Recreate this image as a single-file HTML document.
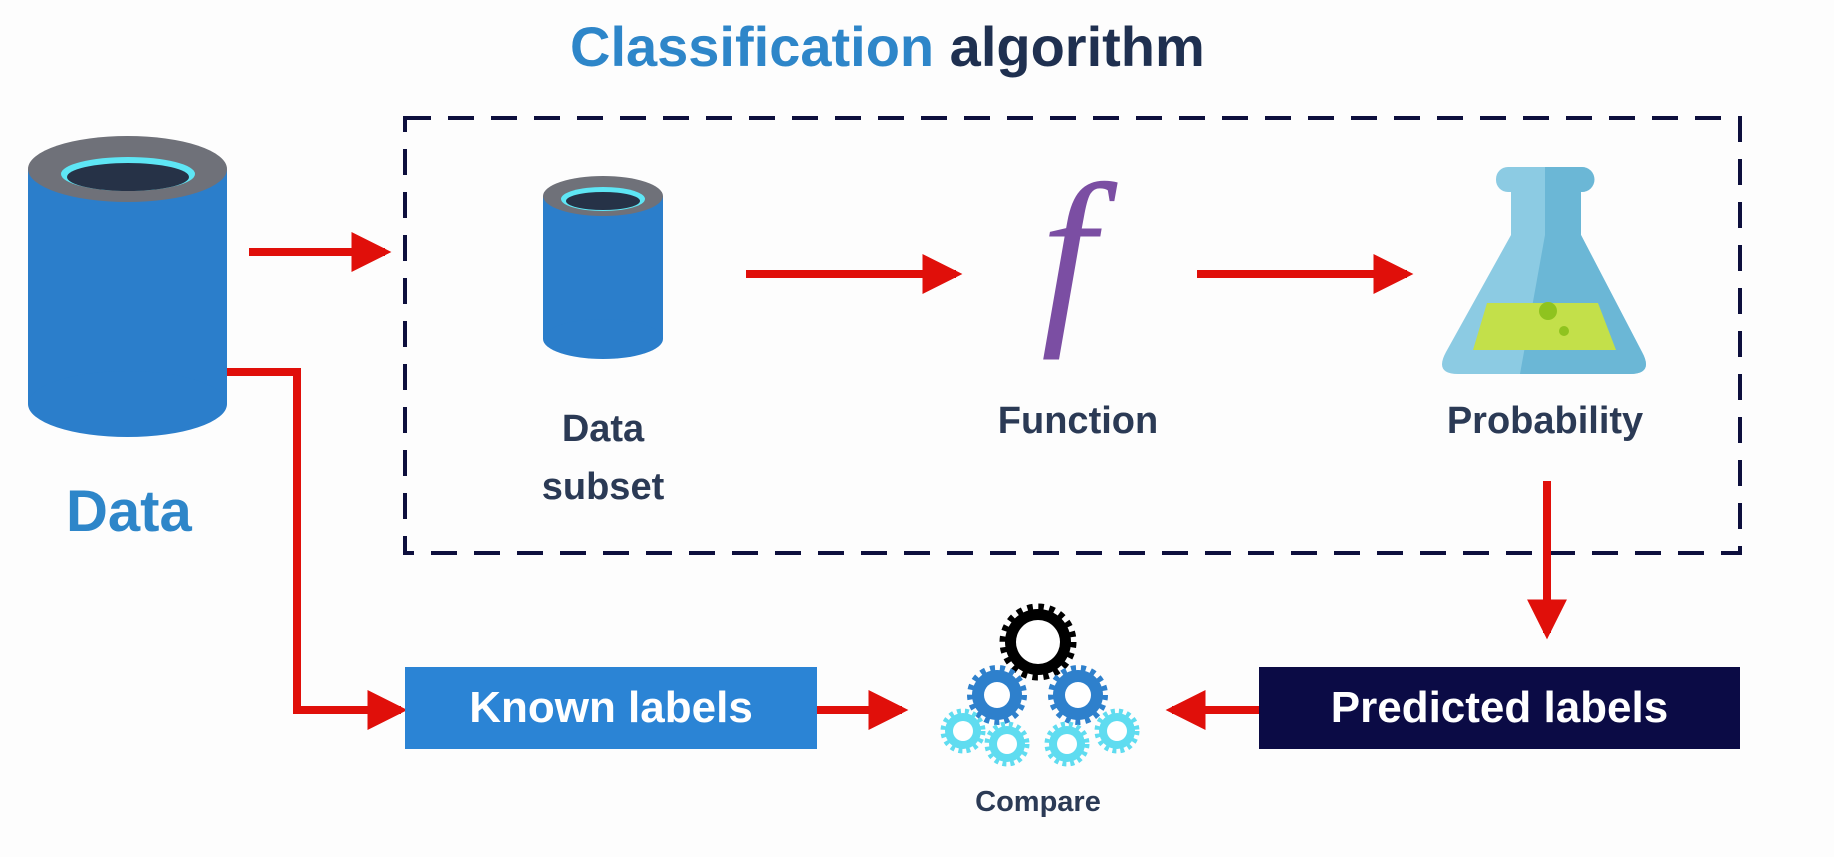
<!DOCTYPE html>
<html><head><meta charset="utf-8"><style>
html,body{margin:0;padding:0;background:#fdfdfd;}
body{width:1834px;height:857px;position:relative;overflow:hidden;font-family:"Liberation Sans",sans-serif;}
.t{position:absolute;font-weight:bold;white-space:nowrap;}
</style></head><body>
<svg width="1834" height="857" style="position:absolute;left:0;top:0">
<defs>
<marker id="ah" markerWidth="5" markerHeight="5" refX="4.2" refY="2.5" orient="auto" markerUnits="strokeWidth"><path d="M0,0 L5,2.5 L0,5 z" fill="#e00f0a"/></marker>
</defs>
<rect x="405" y="118" width="1335" height="435" fill="none" stroke="#0d0f3d" stroke-width="4" stroke-dasharray="26,17"/>
<rect x="28" y="169" width="199" height="235" fill="#2b7ecb"/>
<ellipse cx="127.5" cy="404" rx="99.5" ry="33" fill="#2b7ecb"/>
<ellipse cx="127.5" cy="169" rx="99.5" ry="33" fill="#6f7179"/>
<ellipse cx="128" cy="174" rx="67" ry="17" fill="#5ee6f5"/>
<ellipse cx="128" cy="177" rx="61" ry="14" fill="#263247"/>
<rect x="543" y="196" width="120" height="143" fill="#2b7ecb"/>
<ellipse cx="603" cy="339" rx="60" ry="20" fill="#2b7ecb"/>
<ellipse cx="603" cy="196" rx="60" ry="20" fill="#6f7179"/>
<ellipse cx="603" cy="199" rx="42" ry="12" fill="#5ee6f5"/>
<ellipse cx="603" cy="201" rx="37" ry="9" fill="#263247"/>
<rect x="1496" y="167" width="98" height="25" rx="12" fill="#8ccbe3"/>
<path d="M1545,167 H1582 A12,12 0 0 1 1582,192 H1545 Z" fill="#6bb7d6"/>
<path d="M1511,190 H1581 V235 L1642,352 Q1654,374 1630,374 H1458 Q1434,374 1446,352 L1511,235 Z" fill="#8ccbe3"/>
<path d="M1545,190 H1581 V235 L1642,352 Q1654,374 1630,374 H1520 L1545,235 Z" fill="#6bb7d6"/>
<path d="M1487,303 H1598 L1616,350 H1473 Z" fill="#c3e04a"/>
<circle cx="1548" cy="311" r="9" fill="#8fc31f"/>
<circle cx="1564" cy="331" r="5" fill="#8fc31f"/>
<g stroke="#e00f0a" stroke-width="8" fill="none" marker-end="url(#ah)">
<line x1="249" y1="252" x2="385" y2="252"/>
<line x1="746" y1="274" x2="956" y2="274"/>
<line x1="1197" y1="274" x2="1407" y2="274"/>
<line x1="1547" y1="481" x2="1547" y2="633"/>
<polyline points="227,372 297,372 297,710 401,710"/>
<line x1="817" y1="710" x2="902" y2="710"/>
<line x1="1259" y1="710" x2="1172" y2="710"/>
</g>
<rect x="405" y="667" width="412" height="82" fill="#2b84d5"/>
<rect x="1259" y="667" width="481" height="82" fill="#0b0b45"/>
<g>
<circle cx="1038" cy="642" r="33" fill="#000"/><circle cx="1038" cy="642" r="35" fill="none" stroke="#000" stroke-width="7" stroke-dasharray="5.5,5.5"/><circle cx="1038" cy="642" r="22" fill="#fff"/>
<circle cx="997" cy="695" r="25" fill="#2e80cc"/><circle cx="997" cy="695" r="27" fill="none" stroke="#2e80cc" stroke-width="6" stroke-dasharray="5,5"/><circle cx="997" cy="695" r="13" fill="#fff"/>
<circle cx="1078" cy="695" r="25" fill="#2e80cc"/><circle cx="1078" cy="695" r="27" fill="none" stroke="#2e80cc" stroke-width="6" stroke-dasharray="5,5"/><circle cx="1078" cy="695" r="13" fill="#fff"/>
<g fill="#5fdcf0">
<circle cx="963" cy="731" r="18"/><circle cx="1007" cy="744" r="18"/><circle cx="1067" cy="744" r="18"/><circle cx="1117" cy="731" r="18"/>
</g>
<g fill="none" stroke="#5fdcf0" stroke-width="5" stroke-dasharray="4,4">
<circle cx="963" cy="731" r="20"/><circle cx="1007" cy="744" r="20"/><circle cx="1067" cy="744" r="20"/><circle cx="1117" cy="731" r="20"/>
</g>
<g fill="#fff">
<circle cx="963" cy="731" r="10"/><circle cx="1007" cy="744" r="10"/><circle cx="1067" cy="744" r="10"/><circle cx="1117" cy="731" r="10"/>
</g>
</g>
</svg>
<div class="t" style="left:570px;top:14px;font-size:56px;"><span style="color:#2e86c9">Classification</span> <span style="color:#1f3050">algorithm</span></div>
<div class="t" style="left:66px;top:478px;font-size:58px;color:#2e86c9;">Data</div>
<div class="t" style="left:503px;top:400px;width:200px;text-align:center;font-size:38px;line-height:58px;color:#2b3a55;">Data<br>subset</div>
<div class="t" style="left:1041px;top:156px;font-size:195px;line-height:195px;color:#7b4ea3;font-family:'Liberation Serif',serif;font-style:italic;font-weight:normal;">f</div>
<div class="t" style="left:978px;top:400px;width:200px;text-align:center;font-size:38px;color:#2b3a55;">Function</div>
<div class="t" style="left:1425px;top:400px;width:240px;text-align:center;font-size:38px;color:#2b3a55;">Probability</div>
<div class="t" style="left:405px;top:683px;width:412px;text-align:center;font-size:44px;color:#fff;">Known labels</div>
<div class="t" style="left:1259px;top:683px;width:481px;text-align:center;font-size:44px;color:#fff;">Predicted labels</div>
<div class="t" style="left:938px;top:786px;width:200px;text-align:center;font-size:29px;color:#2b3a55;">Compare</div>
</body></html>
